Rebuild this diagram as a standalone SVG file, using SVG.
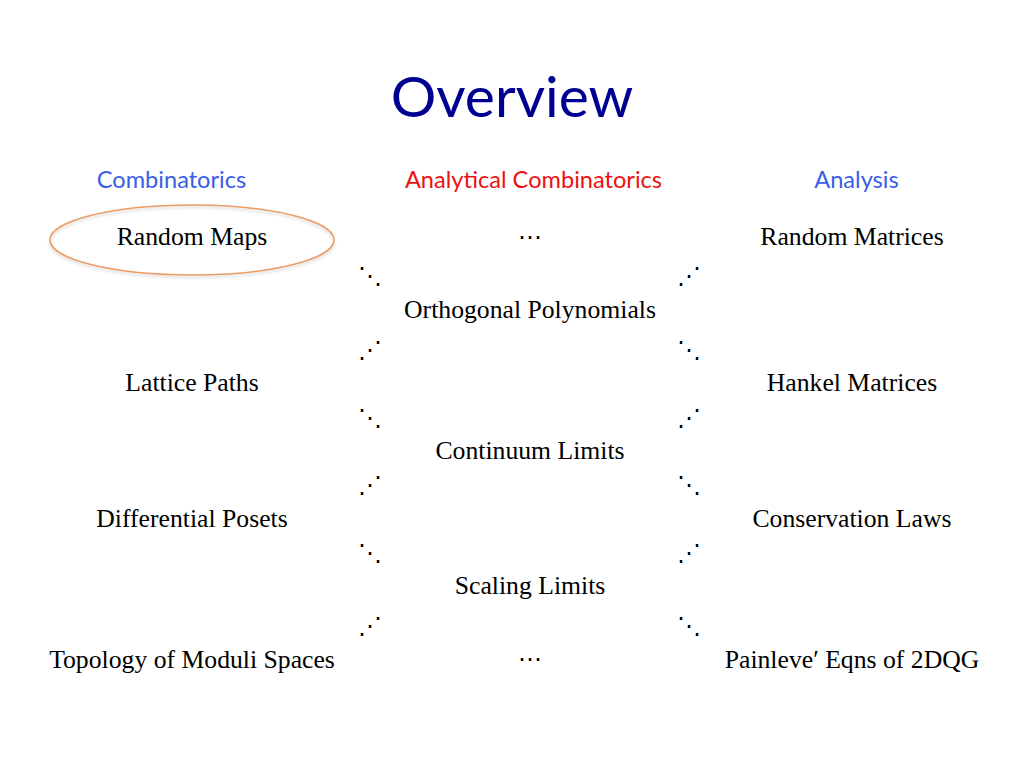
<svg xmlns="http://www.w3.org/2000/svg" width="1024" height="768" viewBox="0 0 1024 768">
<defs>
<style>
.title{font-family:Lato,"Open Sans",sans-serif;font-size:57px;fill:#000090;text-anchor:middle}
.hb{font-family:Lato,"Open Sans",sans-serif;font-size:23.6px;fill:#3a5ee8;text-anchor:middle}
.hr{font-family:Lato,"Open Sans",sans-serif;font-size:23.6px;fill:#ee1111;text-anchor:middle}
.t{font-family:"Liberation Serif","Times New Roman",serif;font-size:25.7px;fill:#000;text-anchor:middle}
.d{font-family:"DejaVu Sans",sans-serif;font-size:24px;fill:#000;text-anchor:middle}
</style>
<filter id="sh" x="-10%" y="-20%" width="120%" height="150%">
<feGaussianBlur in="SourceAlpha" stdDeviation="1.5"/>
<feOffset dy="2" result="b"/>
<feFlood flood-color="#000" flood-opacity="0.18"/>
<feComposite in2="b" operator="in"/>
<feMerge><feMergeNode/><feMergeNode in="SourceGraphic"/></feMerge>
</filter>
</defs>
<rect width="1024" height="768" fill="#fff"/>
<text class="title" x="512" y="117">Overview</text>
<g id="headers">
<text class="hb" x="171.5" y="188">Combinatorics</text>
<text class="hr" x="533.5" y="188">Analytical Combinatorics</text>
<text class="hb" x="856.5" y="188">Analysis</text>
</g>
<g id="node-random-maps">
<ellipse cx="192" cy="240" rx="142" ry="35" fill="none" stroke="#ec9b64" stroke-width="1.5" filter="url(#sh)"/>
<text class="t" x="192" y="245">Random Maps</text>
</g>
<g id="node-lattice"><text class="t" x="192" y="391">Lattice Paths</text></g>
<g id="node-posets"><text class="t" x="192" y="527">Differential Posets</text></g>
<g id="node-topology"><text class="t" x="192" y="668">Topology of Moduli Spaces</text></g>
<g id="node-dots-top"><text class="d" x="530" y="245">⋯</text></g>
<g id="node-orthogonal"><text class="t" x="530" y="318">Orthogonal Polynomials</text></g>
<g id="node-continuum"><text class="t" x="530" y="459">Continuum Limits</text></g>
<g id="node-scaling"><text class="t" x="530" y="594">Scaling Limits</text></g>
<g id="node-dots-bottom"><text class="d" x="530" y="667">⋯</text></g>
<g id="node-random-matrices"><text class="t" x="852" y="245">Random Matrices</text></g>
<g id="node-hankel"><text class="t" x="852" y="391">Hankel Matrices</text></g>
<g id="node-conservation"><text class="t" x="852" y="527">Conservation Laws</text></g>
<g id="node-painleve"><text class="t" x="852" y="668">Painleve′ Eqns of 2DQG</text></g>
<g id="connectors">
<text class="d" x="370" y="284">⋱</text>
<text class="d" x="370" y="358">⋰</text>
<text class="d" x="370" y="426">⋱</text>
<text class="d" x="370" y="493">⋰</text>
<text class="d" x="370" y="561">⋱</text>
<text class="d" x="370" y="634">⋰</text>
<text class="d" x="689" y="284">⋰</text>
<text class="d" x="689" y="358">⋱</text>
<text class="d" x="689" y="426">⋰</text>
<text class="d" x="689" y="493">⋱</text>
<text class="d" x="689" y="561">⋰</text>
<text class="d" x="689" y="634">⋱</text>
</g>
</svg>
